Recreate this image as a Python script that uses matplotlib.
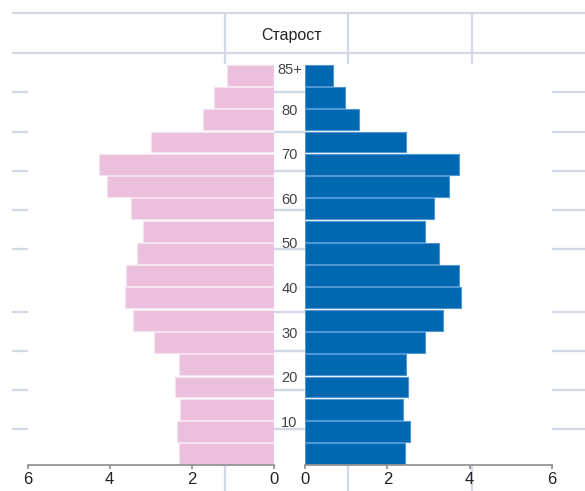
import matplotlib.pyplot as plt
from matplotlib.lines import Line2D
from matplotlib.transforms import blended_transform_factory
import numpy as np

plt.rcParams['font.family'] = ['Liberation Sans', 'DejaVu Sans']

# Data: share of population (%) per 5-year age group, bottom (0-4) to top (85+)
age_groups = ['0-4', '5-9', '10-14', '15-19', '20-24', '25-29', '30-34', '35-39',
              '40-44', '45-49', '50-54', '55-59', '60-64', '65-69', '70-74',
              '75-79', '80-84', '85+']
female = [2.31, 2.35, 2.28, 2.42, 2.31, 2.93, 3.44, 3.63, 3.60, 3.34,
          3.19, 3.49, 4.07, 4.26, 3.00, 1.73, 1.47, 1.14]
male = [2.42, 2.56, 2.38, 2.49, 2.45, 2.92, 3.36, 3.78, 3.73, 3.26,
        2.92, 3.14, 3.51, 3.73, 2.45, 1.32, 0.98, 0.69]
female_total = 90645
male_total = 85071
age_labels = ['85+', '80', '70', '60', '50', '40', '30', '20', '10']
x_ticks = [0, 2, 4, 6]

W, H = 585, 491
fig = plt.figure(figsize=(W / 100, H / 100), dpi=100)

# background grid (pixel coordinates), mostly hidden behind the plot panels
grid_col = '#d3d8e6'
grid_rows = [92.3, 131.7, 170.7, 209.7, 248.7, 312, 351, 390.3, 429.3]
bg = fig.add_axes([0, 0, 1, 1], zorder=0)
bg.set_xlim(0, W)
bg.set_ylim(H, 0)
bg.axis('off')
for yy in [13, 53] + grid_rows:
    bg.plot([12, W], [yy, yy], color=grid_col, lw=1.6, solid_capstyle='butt')
for x in [225, 348, 472]:
    bg.plot([x, x], [13, H], color=grid_col, lw=1.6, solid_capstyle='butt')

# short grid pieces in the middle strip, between the two panels
for yy in grid_rows:
    fig.add_artist(Line2D([276, 303], [yy, yy], transform=bg.transData,
                          color=grid_col, lw=1.6, zorder=3))

bg.text(291, 35, 'Старост', ha='center', va='center', fontsize=11.5, color='#222222')
bg.text(84, 93, f'Жене\n{female_total}', ha='center', va='center', fontsize=11.5,
        fontweight='bold', linespacing=1.05, color='#111111')
bg.text(491, 93, f'Мушкарци\n{male_total}', ha='center', va='center', fontsize=11.5,
        fontweight='bold', linespacing=1.05, color='#111111')

# plot panels
bottom = (H - 465) / H
height = (465 - 64) / H
ax_f = fig.add_axes([27.5 / W, bottom, (274 - 27.5) / W, height], zorder=1)
ax_m = fig.add_axes([305 / W, bottom, (552 - 305) / W, height], zorder=1)

y = np.arange(len(age_groups))
ax_f.barh(y, female, height=0.94, color='#ecc0dc', edgecolor='#f7e2ef', linewidth=0.8)
ax_m.barh(y, male, height=0.94, color='#0067b1', edgecolor='#4f97d2', linewidth=0.8)

ax_f.set_xlim(6, 0)
ax_m.set_xlim(0, 6)
for ax in (ax_f, ax_m):
    ax.set_ylim(-0.5, len(age_groups) - 0.5)
    ax.set_facecolor('white')
    for side in ['top', 'left', 'right']:
        ax.spines[side].set_visible(False)
    ax.spines['bottom'].set_color('#8c8c8c')
    ax.spines['bottom'].set_linewidth(1.2)
    ax.set_yticks([])
    ax.set_xticks(x_ticks)
    ax.tick_params(axis='x', direction='out', length=3, width=1.2, color='#8c8c8c',
                   labelsize=12, pad=2, labelcolor='#222222')

# age labels in the middle strip
mid = blended_transform_factory(fig.transFigure, ax_f.transData)
for lab in age_labels:
    pos = 17.23 if lab == '85+' else int(lab) / 5 - 0.6
    ax_f.text(289.5 / W, pos, lab, transform=mid, ha='center', va='center',
              fontsize=10.5, color='#444444', clip_on=False, zorder=4)

plt.savefig('out.png', dpi=100)
